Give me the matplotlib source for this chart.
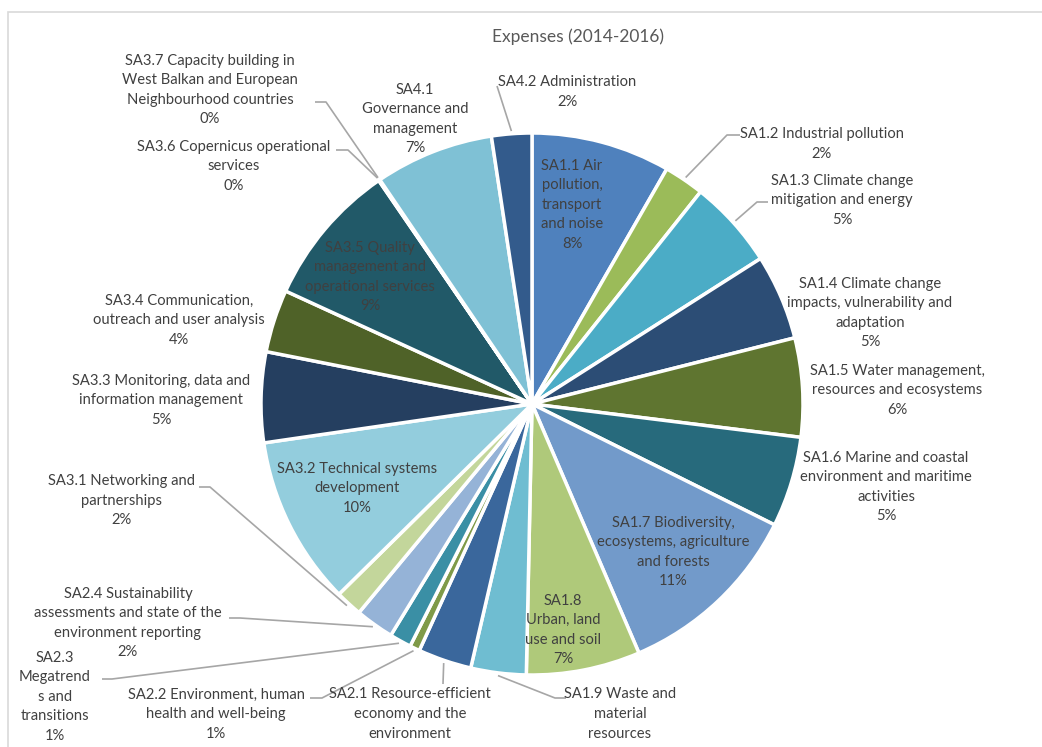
import matplotlib
matplotlib.use("Agg")
import matplotlib.pyplot as plt
import numpy as np
from matplotlib.patches import Rectangle

# ---------------- data ----------------
categories = [
    "SA1.1 Air\npollution,\ntransport\nand noise",
    "SA1.2 Industrial pollution",
    "SA1.3 Climate change\nmitigation and energy",
    "SA1.4 Climate change\nimpacts, vulnerability and\nadaptation",
    "SA1.5 Water management,\nresources and ecosystems",
    "SA1.6 Marine and coastal\nenvironment and maritime\nactivities",
    "SA1.7 Biodiversity,\necosystems, agriculture\nand forests",
    "SA1.8\nUrban, land\nuse and soil",
    "SA1.9 Waste and\nmaterial\nresources",
    "SA2.1 Resource-efficient\neconomy and the\nenvironment",
    "SA2.2 Environment, human\nhealth and well-being",
    "SA2.3\nMegatrend\ns and\ntransitions",
    "SA2.4 Sustainability\nassessments and state of the\nenvironment reporting",
    "SA3.1 Networking and\npartnerships",
    "SA3.2 Technical systems\ndevelopment",
    "SA3.3 Monitoring, data and\ninformation management",
    "SA3.4 Communication,\noutreach and user analysis",
    "SA3.5 Quality\nmanagement and\noperational services",
    "SA3.6 Copernicus operational\nservices",
    "SA3.7 Capacity building in\nWest Balkan and European\nNeighbourhood countries",
    "SA4.1\nGovernance and\nmanagement",
    "SA4.2 Administration",
]
values = [8.3, 2.4, 5.3, 5.1, 5.9, 5.4, 11.2, 6.8, 3.3, 3.2, 0.6, 1.3,
          2.3, 1.6, 10.1, 5.4, 3.75, 8.6, 0.04, 0.04, 7.1, 2.4]
# percentage line shown in the visible part of the chart (bottom two fall off the crop)
show_pct = [True] * 8 + [False, False] + [True] * 12
colors = ["#4F81BD", "#9BBB59", "#4BACC6", "#2C4D75", "#5F7530", "#276A7C",
          "#729ACA", "#AFC97A", "#6FBDD1", "#3A679C", "#7F9A48", "#3A8FA5",
          "#95B3D7", "#C3D69B", "#93CDDD", "#253F60", "#4F6228", "#215968",
          "#215968", "#4F6228", "#7FC1D5", "#335B8C"]
title = "Expenses (2014-2016)"

# ---------------- layout (pixel coords, y from top) ----------------
W, H = 1042, 747
CX, CY, R = 532, 404, 271
label_pos = [
    (572, 205), (822, 144), (842, 200), (870, 313), (897, 390), (886, 487),
    (673, 552), (563, 630), (620, 714), (410, 714), (216, 714), (55, 697),
    (128, 623), (121, 501), (357, 488), (161, 400), (179, 320), (370, 277),
    (234, 166), (210, 90), (415, 119), (567, 92),
]
leaders = {
    1: [(740, 135), (727, 135)],
    2: [(768, 202), (757, 202)],
    8: [(566, 698), (555, 698)],
    9: [(443, 684)],
    10: [(310, 698), (322, 698)],
    11: [(102, 679), (112, 679)],
    12: [(229, 618), (240, 618)],
    13: [(199, 487), (210, 487)],
    18: [(336, 150), (348, 150)],
    19: [(315, 102), (326, 102)],
    21: [(497, 86)],
}

txt_color = "#404040"
font = ["Lato", "DejaVu Sans"]
fs = 10.6

fig = plt.figure(figsize=(W / 100, H / 100), dpi=100)
fig.patch.set_facecolor("white")
ax = fig.add_axes([0, 0, 1, 1])

wedges, _ = ax.pie(values, colors=colors, startangle=90, counterclock=False,
                   center=(CX, H - CY), radius=R, frame=True,
                   wedgeprops=dict(edgecolor="white", linewidth=2.5))
ax.set_xlim(0, W)
ax.set_ylim(0, H)
ax.set_aspect("equal")
ax.axis("off")

ax.add_patch(Rectangle((8, -20), W + 20, H - 12 + 20, fill=False,
                       edgecolor="#D9D9D9", linewidth=1.2, zorder=0))

total = sum(values)
for i, (name, v) in enumerate(zip(categories, values)):
    pct = int(round(v / total * 100))
    s = f"{name}\n{pct}%" if show_pct[i] else name
    px, py = label_pos[i]
    ax.text(px, H - py, s, ha="center", va="center",
            multialignment="center", fontsize=fs, color=txt_color,
            family=font, linespacing=1.5, zorder=5)

for i, pts in leaders.items():
    w = wedges[i]
    mid = np.deg2rad((w.theta1 + w.theta2) / 2)
    ex = CX + R * 1.01 * np.cos(mid)
    ey = (H - CY) + R * 1.01 * np.sin(mid)
    xs = [p[0] for p in pts] + [ex]
    ys = [H - p[1] for p in pts] + [ey]
    ax.plot(xs, ys, color="#A6A6A6", linewidth=1.2, zorder=4,
            solid_capstyle="butt")

ax.text(578, H - 37, title, ha="center", va="center", fontsize=12.5,
        color="#595959", family=font)

fig.savefig("out.png", dpi=100)
